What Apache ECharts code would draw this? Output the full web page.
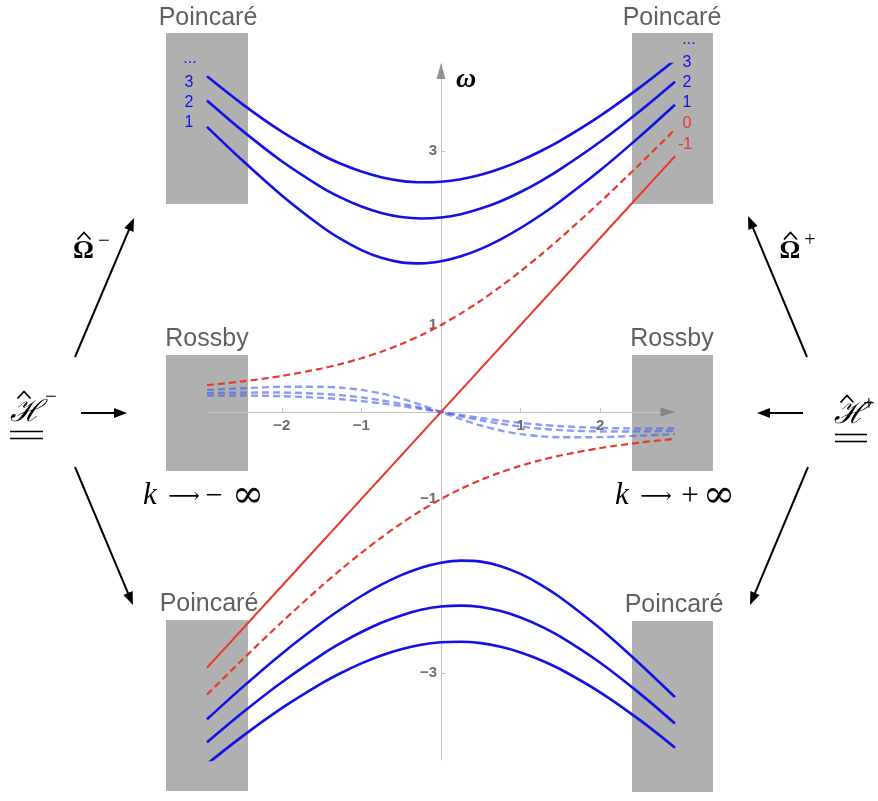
<!DOCTYPE html>
<html><head><meta charset="utf-8">
<script src="https://cdn.jsdelivr.net/npm/echarts@6/dist/echarts.min.js"></script>
<style>html,body{margin:0;padding:0;background:#fff}#c{width:878px;height:801px}</style>
</head><body><div id="c"></div>
<script>
// wavenumber samples k
const kValues = [-2.94, -2.5, -2, -1.5, -1.25, -1, -0.75, -0.5, -0.25, 0, 0.25, 0.5, 0.75, 1, 1.25, 1.5, 2, 2.5, 2.94];
// Kelvin wave (n = -1)
const kelvin = [-2.94, -2.5, -2, -1.5, -1.25, -1, -0.75, -0.5, -0.25, 0, 0.25, 0.5, 0.75, 1, 1.25, 1.5, 2, 2.5, 2.94];
// Mixed Rossby-gravity (n = 0)
const mrgUpper = [0.308, 0.351, 0.414, 0.5, 0.554, 0.618, 0.693, 0.781, 0.883, 1, 1.133, 1.281, 1.443, 1.618, 1.804, 2.0, 2.414, 2.851, 3.248];
const mrgLower = [-3.248, -2.851, -2.414, -2.0, -1.804, -1.618, -1.443, -1.281, -1.133, -1, -0.883, -0.781, -0.693, -0.618, -0.554, -0.5, -0.414, -0.351, -0.308];
// Poincaré (inertia-gravity) upper branches n = 1,2,3
const poincareUp1 = [3.278, 2.896, 2.489, 2.132, 1.983, 1.861, 1.772, 1.720, 1.708, 1.732, 1.790, 1.875, 1.985, 2.115, 2.262, 2.423, 2.778, 3.168, 3.532];
const poincareUp2 = [3.581, 3.237, 2.882, 2.583, 2.461, 2.362, 2.288, 2.242, 2.225, 2.236, 2.274, 2.338, 2.423, 2.529, 2.652, 2.791, 3.106, 3.460, 3.797];
const poincareUp3 = [3.858, 3.542, 3.222, 2.957, 2.850, 2.764, 2.699, 2.657, 2.640, 2.646, 2.675, 2.726, 2.798, 2.889, 2.997, 3.119, 3.404, 3.731, 4.046];
// Poincaré lower branches n = 1,2,3
const poincareLo1 = [-3.532, -3.168, -2.778, -2.423, -2.262, -2.115, -1.985, -1.875, -1.790, -1.732, -1.708, -1.720, -1.772, -1.861, -1.983, -2.132, -2.489, -2.896, -3.278];
const poincareLo2 = [-3.797, -3.460, -3.106, -2.791, -2.652, -2.529, -2.423, -2.338, -2.274, -2.236, -2.225, -2.242, -2.288, -2.362, -2.461, -2.583, -2.882, -3.237, -3.581];
const poincareLo3 = [-4.046, -3.731, -3.404, -3.119, -2.997, -2.889, -2.798, -2.726, -2.675, -2.646, -2.640, -2.657, -2.699, -2.764, -2.850, -2.957, -3.222, -3.542, -3.858];
// Rossby n = 1,2,3
const rossby1 = [0.254, 0.2725, 0.289, 0.290, 0.279, 0.254, 0.213, 0.155, 0.082, 0, -0.082, -0.155, -0.213, -0.254, -0.279, -0.290, -0.289, -0.2725, -0.254];
const rossby2 = [0.216, 0.223, 0.2235, 0.208, 0.192, 0.1675, 0.135, 0.095, 0.049, 0, -0.049, -0.095, -0.135, -0.1675, -0.192, -0.208, -0.2235, -0.223, -0.216];
const rossby3 = [0.188, 0.189, 0.182, 0.163, 0.146, 0.125, 0.099, 0.069, 0.035, 0, -0.035, -0.069, -0.099, -0.125, -0.146, -0.163, -0.182, -0.189, -0.188];
// axis ticks
const xTicks = [-2, -1, 1, 2];
const yTicks = [-3, -1, 1, 3];
const xRange = [-2.94, 2.94];
const yRange = [-4, 4];

const BLUE = '#1212e6', RED = '#e8392c', RBLUE = 'rgba(70,95,235,0.62)';
const pair = arr => kValues.map((k, i) => [k, arr[i]]);
const minus = v => v < 0 ? '\u2212' + Math.abs(v) : String(v);

function line(name, arr, color, width, dashed) {
  return { name, type: 'line', data: pair(arr), showSymbol: false, smooth: 0.3, clip: true,
    lineStyle: { color, width, type: dashed ? [7, 4] : 'solid', cap: 'butt' }, z: 3 };
}

function txt(x, y, s, o) {
  return Object.assign({ type: 'text', x, y, z: 10,
    style: Object.assign({ text: s, align: 'center', verticalAlign: 'middle',
      fontFamily: 'Liberation Sans, Arial, sans-serif', fontSize: 16, fill: '#000' }, o || {}) });
}
function arrow(x1, y1, x2, y2) {
  const dx = x2 - x1, dy = y2 - y1, L = Math.hypot(dx, dy), ux = dx / L, uy = dy / L;
  const hl = 13, hw = 5, bx = x2 - ux * hl, by = y2 - uy * hl;
  return [
    { type: 'line', z: 10, shape: { x1, y1, x2: bx + ux * 2, y2: by + uy * 2 }, style: { stroke: '#000', lineWidth: 2 } },
    { type: 'polygon', z: 10, shape: { points: [[x2, y2], [bx - uy * hw, by + ux * hw], [bx + uy * hw, by - ux * hw]] }, style: { fill: '#000' } }
  ];
}
function rect(x, y, w, h) {
  return { type: 'rect', z: -1, shape: { x, y, width: w, height: h }, style: { fill: '#b0b0b0' } };
}
function hat(cx, cy, w, h) {
  return { type: 'polyline', z: 10, shape: { points: [[cx - w / 2, cy + h / 2], [cx, cy - h / 2], [cx + w / 2, cy + h / 2]] }, style: { stroke: '#000', lineWidth: 1.8, fill: null } };
}
function hline(x1, x2, y) {
  return { type: 'line', z: 10, shape: { x1, y1: y, x2, y2: y }, style: { stroke: '#000', lineWidth: 1.6 } };
}

const GRAY_T = { fontSize: 25, fill: '#606060' };
const serif = 'Liberation Serif, Times New Roman, serif';
const graphics = [
  rect(166, 33, 82, 171), rect(632, 33, 81, 171),
  rect(166, 355, 82, 116), rect(632, 355, 81, 116),
  rect(166, 620, 82, 171), rect(632, 621, 81, 171),
  txt(208, 18.5, 'Poincaré', GRAY_T), txt(672, 18.5, 'Poincaré', GRAY_T),
  txt(207, 339, 'Rossby', GRAY_T), txt(672, 339, 'Rossby', GRAY_T),
  txt(209, 604, 'Poincaré', GRAY_T), txt(674, 605, 'Poincaré', GRAY_T),
  // left mode numbers
  txt(190, 59, '...', { fill: BLUE }), txt(189, 82.5, '3', { fill: BLUE }),
  txt(189, 102.5, '2', { fill: BLUE }), txt(189, 122.5, '1', { fill: BLUE }),
  // right mode numbers
  txt(689, 40, '...', { fill: BLUE }), txt(687, 62.5, '3', { fill: BLUE }),
  txt(687, 82.5, '2', { fill: BLUE }), txt(687, 102.5, '1', { fill: BLUE }),
  txt(687, 124, '0', { fill: RED }), txt(685, 145, '-1', { fill: RED }),
  // omega axis label
  txt(466, 80, 'ω', { fontFamily: serif, fontStyle: 'italic', fontWeight: 'bold', fontSize: 28 }),
  // k limits
  txt(150, 496, 'k', { fontFamily: serif, fontStyle: 'italic', fontSize: 31 }),
  txt(184, 497, '⟶', { fontFamily: 'DejaVu Serif, DejaVu Sans, serif', fontSize: 22 }),
  txt(214, 497, '−', { fontFamily: serif, fontSize: 31 }),
  txt(248, 497, '∞', { fontFamily: 'DejaVu Serif, serif', fontSize: 39 }),
  txt(622, 496, 'k', { fontFamily: serif, fontStyle: 'italic', fontSize: 31 }),
  txt(656, 497, '⟶', { fontFamily: 'DejaVu Serif, DejaVu Sans, serif', fontSize: 22 }),
  txt(690, 497, '+', { fontFamily: serif, fontSize: 31 }),
  txt(719, 497, '∞', { fontFamily: 'DejaVu Serif, serif', fontSize: 39 }),
  // Omega hats
  txt(83.5, 251, 'Ω', { fontFamily: serif, fontSize: 26, fontWeight: 'bold' }), hat(84, 236, 13, 7),
  txt(104, 241, '−', { fontFamily: serif, fontSize: 21 }),
  txt(790, 251, 'Ω', { fontFamily: serif, fontSize: 26, fontWeight: 'bold' }), hat(790.5, 236, 13, 7),
  txt(810, 241, '+', { fontFamily: serif, fontSize: 20 }),
  // H operators
  txt(26, 413, 'ℋ', { fontFamily: 'DejaVu Serif, serif', fontStyle: 'italic', fontSize: 30 }), hat(24, 395, 13, 7),
  txt(51, 397, '−', { fontFamily: serif, fontSize: 21 }),
  hline(10, 43, 431.5), hline(10, 43, 438.5),
  txt(850, 415, 'ℋ', { fontFamily: 'DejaVu Serif, serif', fontStyle: 'italic', fontSize: 30 }), hat(847, 399, 13, 7),
  txt(869, 405, '+', { fontFamily: serif, fontSize: 20 }),
  hline(835, 867, 434.5), hline(835, 867, 441.5),
  ...arrow(75, 357, 134, 218), ...arrow(81, 413, 127, 413), ...arrow(75, 467, 133, 605),
  ...arrow(807, 357, 748, 216), ...arrow(803, 413, 757, 413), ...arrow(808, 467, 750, 605)
];

const G = { left: 207, right: 203, top: 64, bottom: 41 };
const plotW = 878 - G.left - G.right, plotH = 801 - G.top - G.bottom;
// place axes through the origin via offsets (axis layout, not data)
const xOffset = -plotH * (0 - yRange[0]) / (yRange[1] - yRange[0]);
const yOffset = -plotW * (0 - xRange[0]) / (xRange[1] - xRange[0]);
const AXL = { color: '#6e6e6e', fontSize: 15, fontWeight: 'bold', fontFamily: 'Liberation Sans, Arial, sans-serif' };

const chart = echarts.init(document.getElementById('c'), null, { renderer: 'canvas' });
chart.setOption({
  animation: false,
  backgroundColor: '#fff',
  grid: G,
  xAxis: {
    type: 'value', min: xRange[0], max: xRange[1], position: 'bottom', offset: xOffset,
    axisLine: { onZero: false, lineStyle: { color: '#c4c4c4', width: 1 } },
    axisTick: { inside: true, length: 4, customValues: xTicks, lineStyle: { color: '#c4c4c4' } },
    axisLabel: Object.assign({ customValues: xTicks, formatter: minus, margin: 6 }, AXL),
    splitLine: { show: false }
  },
  yAxis: {
    type: 'value', min: yRange[0], max: yRange[1], position: 'left', offset: yOffset,
    axisLine: { onZero: false, lineStyle: { color: '#c4c4c4', width: 1 } },
    axisTick: { inside: true, length: 4, customValues: yTicks, lineStyle: { color: '#c4c4c4' } },
    axisLabel: Object.assign({ customValues: yTicks, formatter: minus, margin: 4 }, AXL),
    splitLine: { show: false }
  },
  series: [
    line('Rossby 3', rossby3, RBLUE, 2.4, true),
    line('Rossby 2', rossby2, RBLUE, 2.4, true),
    line('Rossby 1', rossby1, RBLUE, 2.4, true),
    line('Kelvin', kelvin, RED, 2, false),
    line('MRG upper', mrgUpper, RED, 2.2, true),
    line('MRG lower', mrgLower, RED, 2.2, true),
    line('Poincaré +1', poincareUp1, BLUE, 2.6, false),
    line('Poincaré +2', poincareUp2, BLUE, 2.6, false),
    line('Poincaré +3', poincareUp3, BLUE, 2.6, false),
    line('Poincaré −1', poincareLo1, BLUE, 2.6, false),
    line('Poincaré −2', poincareLo2, BLUE, 2.6, false),
    line('Poincaré −3', poincareLo3, BLUE, 2.6, false),
    { type: 'scatter', name: 'x arrow', data: [[xRange[1], 0]], symbol: 'path://M0,0L10,5L0,10Z', symbolSize: [15, 9], symbolOffset: [-7, 0], itemStyle: { color: '#7a7a7a' }, z: 5, silent: true, clip: false },
    { type: 'scatter', name: 'y arrow', data: [[0, yRange[1]]], symbol: 'path://M5,0L10,10L0,10Z', symbolSize: [9, 16], symbolOffset: [0, 7], itemStyle: { color: '#7a7a7a' }, z: 5, silent: true, clip: false }
  ],
  graphic: { elements: graphics }
});
</script>
</body></html>
